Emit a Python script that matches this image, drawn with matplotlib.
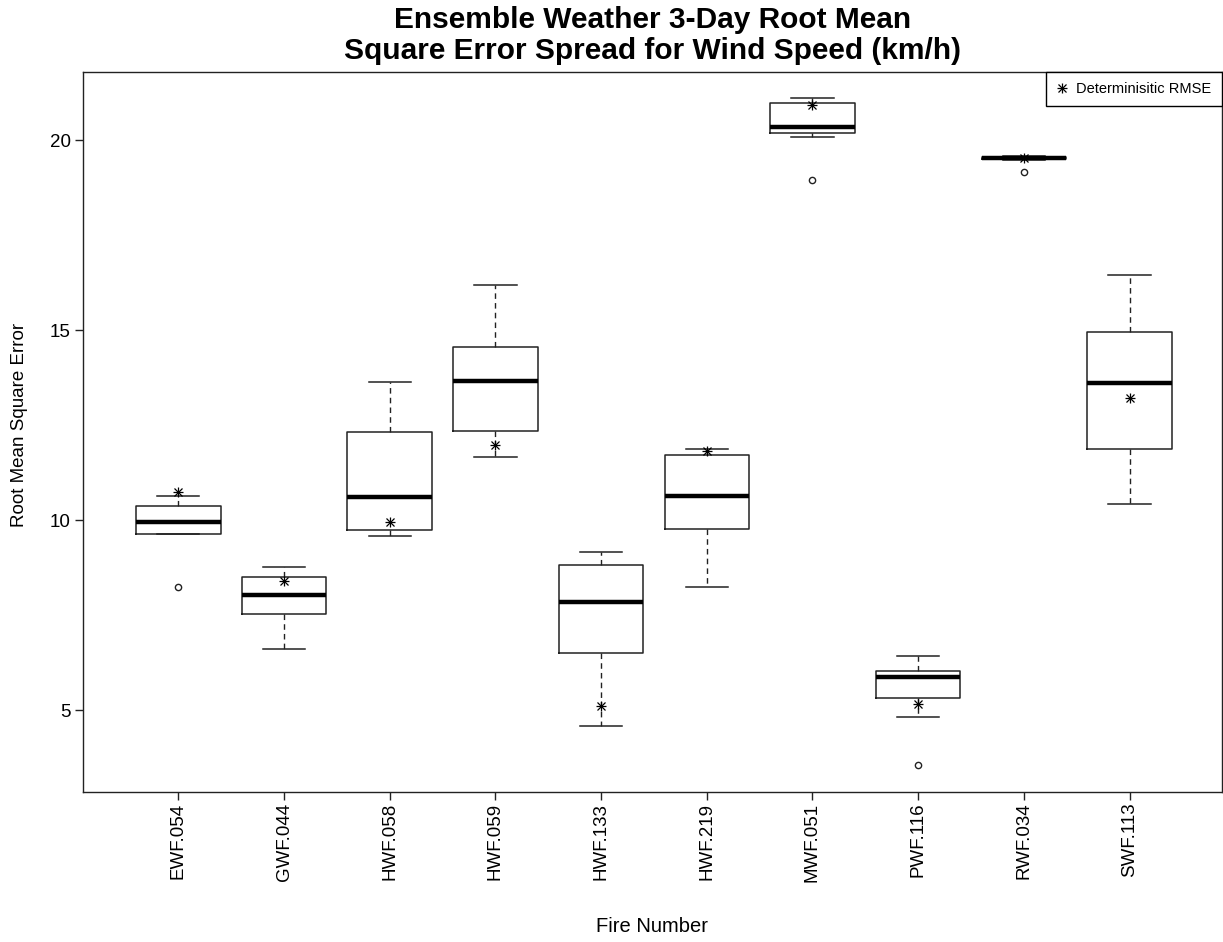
import matplotlib.pyplot as plt

plt.rcParams['font.family'] = ['Liberation Sans', 'DejaVu Sans']

# Fires and box statistics (RMSE of wind speed, km/h)
fires = ["EWF.054", "GWF.044", "HWF.058", "HWF.059", "HWF.133",
         "HWF.219", "MWF.051", "PWF.116", "RWF.034", "SWF.113"]
q1 = [9.62, 7.54, 9.75, 12.35, 6.49, 9.77, 20.19, 5.31, 19.49, 11.86]
med = [9.95, 8.03, 10.61, 13.65, 7.84, 10.63, 20.35, 5.88, 19.52, 13.60]
q3 = [10.38, 8.50, 12.32, 14.55, 8.82, 11.72, 20.97, 6.03, 19.56, 14.94]
whislo = [9.62, 6.60, 9.59, 11.66, 4.59, 8.24, 20.09, 4.82, 19.48, 10.43]
whishi = [10.64, 8.76, 13.62, 16.18, 9.16, 11.88, 21.10, 6.43, 19.58, 16.45]
outliers = [[8.24], [], [], [], [], [], [18.95], [3.54], [19.17], []]
det_rmse = [10.75, 8.39, 9.96, 11.97, 5.11, 11.81, 20.92, 5.16, 19.52, 13.22]

W, H = 1223, 942
fig = plt.figure(figsize=(W / 100, H / 100), dpi=100)
ax = fig.add_axes([83.3 / W, 1 - 791.7 / H, (1221.5 - 83.3) / W, (791.7 - 71.7) / H])

stats = []
for i, name in enumerate(fires):
    stats.append(dict(label=name, q1=q1[i], med=med[i], q3=q3[i],
                      whislo=whislo[i], whishi=whishi[i], fliers=outliers[i]))

pos = list(range(1, len(fires) + 1))
line_col = "#222222"
ax.bxp(stats, positions=pos, widths=0.8, capwidths=0.4,
       boxprops=dict(color=line_col, lw=1.1),
       medianprops=dict(color="black", lw=3.2, solid_capstyle="butt"),
       whiskerprops=dict(color=line_col, lw=1.0, linestyle=(0, (4, 3))),
       capprops=dict(color=line_col, lw=1.1),
       flierprops=dict(marker="o", markersize=4.5, markerfacecolor="none",
                       markeredgecolor=line_col, markeredgewidth=1.0))

# deterministic RMSE as R-style asterisk (pch 8)
p1, = ax.plot(pos, det_rmse, ls="none", marker="+", ms=7.5, mew=0.9, color="black")
p2, = ax.plot(pos, det_rmse, ls="none", marker="x", ms=5.5, mew=0.9, color="black")

leg = ax.legend([(p1, p2)], ["Determinisitic RMSE"], loc="upper right",
                borderaxespad=0, fancybox=False, framealpha=1, edgecolor="black",
                fontsize=10.5, handlelength=0.8, handletextpad=0.6, borderpad=0.7)
leg.get_frame().set_linewidth(1.0)

ax.set_xlim(0.101, 10.87)
ax.set_ylim(2.85, 21.80)
ax.set_yticks([5, 10, 15, 20])
ax.set_xticks(pos)
ax.set_xticklabels(fires, rotation=90)
ax.tick_params(length=5.5, width=1.0, labelsize=13.5, color=line_col)
ax.tick_params(axis="x", pad=2.5)
for s in ax.spines.values():
    s.set_color(line_col)
    s.set_linewidth(1.0)

ax.set_title("Ensemble Weather 3-Day Root Mean\nSquare Error Spread for Wind Speed (km/h)",
             fontsize=21.5, fontweight="bold", pad=9.5, linespacing=1.1)
fig.text(20 / W, 1 - 425 / H, "Root Mean Square Error", rotation=90,
         ha="center", va="center", fontsize=13.5)
fig.text(652.5 / W, 1 - 926 / H, "Fire Number", ha="center", va="center", fontsize=14.5)

fig.savefig("out.png", dpi=100)
